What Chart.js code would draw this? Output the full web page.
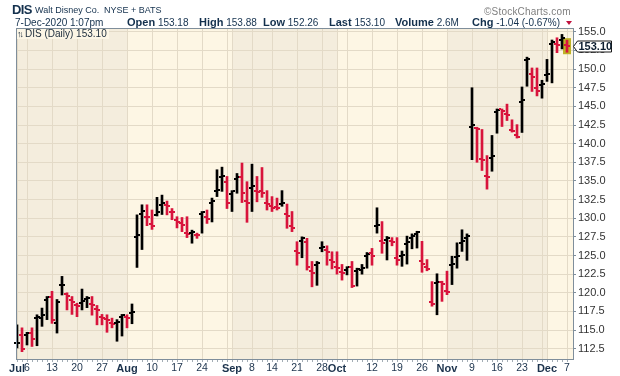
<!DOCTYPE html>
<html>
<head>
<meta charset="utf-8">
<title>DIS Daily</title>
<script src="https://cdn.jsdelivr.net/npm/chart.js"></script>
<style>
  body { margin: 0; background: #fff; }
  #wrap { position: relative; width: 620px; height: 376px; overflow: hidden;
    font-family: "Liberation Sans", Arial, sans-serif; color: #13304d; }
  #wrap canvas { position: absolute; left: 0; top: 0; }
  #wrap span { position: absolute; white-space: nowrap; line-height: 1; }
  #wrap span.q { top: 16.7px; font-size: 10px; line-height: 11px; }
  #wrap span.q b { font-size: 11px; }
  #legend { left: 17px; top: 29px; height: 10px; padding-right: 2px; font-size: 10px;
    line-height: 10px !important; background: #fcf6e6; color: #1a2a3a; }
  #legend i { font-style: normal; font-size: 9px; letter-spacing: -2px; margin-right: 3px; }
  #down { position: absolute; left: 566px; top: 21px; width: 0; height: 0;
    border-left: 3.5px solid transparent; border-right: 3.5px solid transparent;
    border-top: 4px solid #c0103c; }
</style>
</head>
<body>
<div id="wrap">
  <canvas id="chart" width="620" height="376"></canvas>
  <span style="left:12px; top:3px; font-size:13px; font-weight:bold; letter-spacing:-0.6px;">DIS</span>
  <span style="left:35px; top:6.4px; font-size:9px;">Walt Disney Co.</span>
  <span style="left:104px; top:6.4px; font-size:9px;">NYSE + BATS</span>
  <span style="left:484px; top:6.5px; font-size:10px; color:#808080; letter-spacing:0.2px;">©StockCharts.com</span>
  <span class="q" style="left:15px;">7-Dec-2020 1:07pm</span>
  <span class="q" style="left:127px;"><b>Open</b> 153.18</span>
  <span class="q" style="left:199px;"><b>High</b> 153.88</span>
  <span class="q" style="left:263px;"><b>Low</b> 152.26</span>
  <span class="q" style="left:329px;"><b>Last</b> 153.10</span>
  <span class="q" style="left:395px;"><b>Volume</b> 2.6M</span>
  <span class="q" style="left:472px;"><b>Chg</b> -1.04 (-0.67%)</span>
  <div id="down"></div>
  <span id="legend"><i>↑↓</i>DIS (Daily) 153.10</span>
</div>
<script>
// Trading days, Jul 1 - Dec 7 2020 (MM-DD)
const dates = [
  "07-01", "07-02", "07-06", "07-07", "07-08", "07-09", "07-10", "07-13", "07-14", "07-15",
  "07-16", "07-17", "07-20", "07-21", "07-22", "07-23", "07-24", "07-27", "07-28", "07-29",
  "07-30", "07-31", "08-03", "08-04", "08-05", "08-06", "08-07", "08-10", "08-11", "08-12",
  "08-13", "08-14", "08-17", "08-18", "08-19", "08-20", "08-21", "08-24", "08-25", "08-26",
  "08-27", "08-28", "08-31", "09-01", "09-02", "09-03", "09-04", "09-08", "09-09", "09-10",
  "09-11", "09-14", "09-15", "09-16", "09-17", "09-18", "09-21", "09-22", "09-23", "09-24",
  "09-25", "09-28", "09-29", "09-30", "10-01", "10-02", "10-05", "10-06", "10-07", "10-08",
  "10-09", "10-12", "10-13", "10-14", "10-15", "10-16", "10-19", "10-20", "10-21", "10-22",
  "10-23", "10-26", "10-27", "10-28", "10-29", "10-30", "11-02", "11-03", "11-04", "11-05",
  "11-06", "11-09", "11-10", "11-11", "11-12", "11-13", "11-16", "11-17", "11-18", "11-19",
  "11-20", "11-23", "11-24", "11-25", "11-27", "11-30", "12-01", "12-02", "12-03", "12-04",
  "12-07",
];

const opens = [
  113.2, 114.3, 114.4, 114.6, 116.6, 116.6, 119.0, 119.5, 116.0, 121.0,
  119.8, 119.0, 118.3, 118.6, 119.1, 118.5, 117.8, 116.7, 116.5, 115.9,
  116.0, 116.8, 116.8, 117.3, 127.5, 130.5, 130.2, 129.2, 130.4, 131.8,
  131.8, 130.9, 129.7, 129.3, 128.0, 128.0, 127.8, 130.6, 130.1, 132.0,
  133.6, 135.5, 134.8, 133.3, 135.3, 135.5, 132.3, 134.1, 133.7, 133.6,
  132.0, 131.6, 131.5, 131.9, 130.6, 128.9, 125.6, 127.0, 126.8, 122.9,
  123.7, 126.0, 125.7, 124.4, 123.5, 122.8, 123.1, 123.5, 122.9, 123.1,
  124.9, 125.3, 128.9, 127.0, 127.1, 127.0, 124.6, 124.9, 126.5, 127.3,
  127.9, 124.2, 123.5, 118.7, 121.3, 121.4, 120.3, 123.7, 124.8, 126.7,
  127.3, 142.3, 142.1, 138.0, 135.7, 138.1, 144.2, 144.6, 144.0, 141.8,
  141.1, 145.6, 151.2, 149.3, 147.4, 147.8, 149.2, 153.3, 153.4, 153.9,
  153.18,
];
const highs = [
  115.7, 115.3, 114.7, 115.3, 117.05, 117.95, 119.5, 120.2, 119.1, 122.2,
  120.0, 119.5, 118.6, 120.5, 119.5, 119.5, 118.3, 117.1, 117.05, 116.6,
  116.4, 117.1, 117.05, 118.5, 130.45, 131.8, 131.8, 131.1, 132.8, 133.1,
  132.3, 131.3, 130.2, 130.1, 130.2, 128.4, 128.0, 130.9, 131.1, 132.7,
  136.5, 136.85, 135.6, 133.7, 136.0, 137.4, 134.9, 137.25, 135.6, 136.8,
  133.7, 132.9, 132.7, 133.7, 131.9, 130.9, 126.85, 127.5, 127.3, 124.2,
  124.2, 126.85, 126.3, 125.5, 125.5, 123.8, 123.5, 124.2, 123.3, 123.8,
  125.4, 125.95, 131.4, 129.55, 127.55, 127.4, 127.4, 125.6, 127.6, 127.9,
  128.25, 126.9, 124.45, 121.5, 122.55, 121.55, 122.9, 124.9, 126.7, 128.45,
  127.9, 147.5, 142.2, 141.9, 138.4, 141.1, 144.65, 144.65, 145.3, 143.2,
  142.55, 147.6, 151.6, 150.15, 150.15, 148.5, 151.3, 153.9, 154.2, 154.65,
  153.88,
];
const lows = [
  112.6, 112.1, 113.0, 112.8, 112.9, 115.5, 116.4, 115.9, 114.6, 119.7,
  117.7, 117.1, 116.8, 117.7, 118.0, 117.0, 115.7, 115.7, 114.7, 115.3,
  113.5, 114.2, 115.3, 115.85, 123.4, 125.8, 129.0, 128.5, 130.3, 130.5,
  130.45, 129.8, 128.7, 128.2, 127.4, 126.65, 127.3, 128.0, 129.3, 129.5,
  132.9, 133.6, 131.3, 130.9, 133.35, 132.1, 129.45, 130.9, 132.2, 132.8,
  131.1, 130.9, 131.1, 131.6, 128.65, 128.2, 123.7, 124.7, 123.05, 120.8,
  121.0, 125.5, 123.7, 123.2, 122.5, 121.7, 122.4, 120.7, 120.9, 122.5,
  123.3, 123.7, 128.0, 125.3, 124.4, 126.3, 123.7, 123.55, 123.85, 125.9,
  126.0, 122.75, 122.95, 118.2, 117.05, 118.85, 119.75, 121.1, 123.3, 125.55,
  124.35, 137.85, 137.5, 136.4, 133.9, 136.3, 141.4, 142.3, 143.1, 141.55,
  140.75, 141.5, 147.7, 147.0, 146.4, 146.1, 148.35, 148.15, 152.2, 152.7,
  152.26,
];
const closes = [
  113.3, 112.4, 114.6, 113.8, 116.8, 117.0, 119.4, 116.4, 118.8, 121.1,
  119.6, 118.8, 118.2, 118.9, 119.3, 118.4, 117.7, 116.6, 116.4, 115.8,
  116.1, 117.0, 116.6, 117.4, 127.8, 131.0, 130.1, 129.0, 130.8, 132.0,
  131.6, 130.8, 129.5, 129.1, 127.9, 128.2, 127.7, 130.8, 129.9, 132.3,
  133.8, 135.7, 132.0, 133.6, 135.5, 133.4, 132.0, 134.3, 133.5, 133.35,
  131.9, 131.4, 131.35, 132.1, 130.35, 128.7, 125.4, 127.3, 123.4, 122.7,
  124.0, 126.2, 125.5, 124.1, 123.3, 122.6, 123.4, 120.9, 123.2, 123.3,
  125.15, 125.0, 129.1, 126.7, 127.4, 126.85, 124.4, 125.05, 126.8, 127.6,
  128.1, 123.9, 123.2, 118.45, 121.5, 121.2, 120.1, 123.9, 125.0, 126.9,
  127.6, 142.5, 142.0, 137.8, 135.5, 138.3, 144.5, 144.4, 143.8, 141.65,
  140.9, 145.9, 151.4, 149.0, 147.1, 148.0, 149.35, 153.6, 153.2, 154.14,
  153.10,
];
const prevClose = 111.51; // Jun 30 close, sets colour of first bar

// X axis: weekly / month ticks ("" = grid line only)
const xTickDates = [
  "07-01", "07-06", "07-13", "07-20", "07-27", "08-03", "08-10", "08-17", "08-24",
  "08-31", "09-01", "09-08", "09-14", "09-21", "09-28", "10-01", "10-05", "10-12",
  "10-19", "10-26", "11-02", "11-09", "11-16", "11-23", "11-30", "12-01", "12-07",
];
const xTickLabels = [
  "Jul", "6", "13", "20", "27", "Aug", "10", "17", "24",
  "", "Sep", "8", "14", "21", "28", "Oct", "", "12",
  "19", "26", "Nov", "9", "16", "23", "", "Dec", "7",
];
const yTicks = [112.5, 115, 117.5, 120, 122.5, 125, 127.5, 130, 132.5, 135, 137.5, 140, 142.5, 145, 147.5, 150, 152.5, 155];

const UP = "#000000";
const DOWN = "#d8143c";
const gridColor = "#e3dac7";
const frameColor = "#7f8e9b";

const barColors = closes.map((c, i) => (c >= (i === 0 ? prevClose : closes[i - 1]) ? UP : DOWN));

/** Alternating month shading */
const monthBands = {
  id: "monthBands",
  beforeDraw(chart) {
    const { ctx, chartArea: a, scales: { x } } = chart;
    ctx.save();
    ctx.fillStyle = "#fdf6e4";
    ctx.fillRect(a.left, a.top, a.right - a.left, a.bottom - a.top);
    let start = 0;
    let month = 0;
    for (let i = 1; i <= dates.length; i++) {
      if (i === dates.length || dates[i].slice(0, 2) !== dates[i - 1].slice(0, 2)) {
        if (month % 2 === 0) {
          const x0 = start === 0 ? a.left : Math.round(x.getPixelForValue(start));
          const x1 = i === dates.length ? a.right : Math.round(x.getPixelForValue(i));
          ctx.fillStyle = "#f4eddd";
          ctx.fillRect(x0, a.top, x1 - x0, a.bottom - a.top);
        }
        start = i;
        month++;
      }
    }
    ctx.restore();
  },
};

/** Open / close ticks, last bar highlight, frame and price tag */
const ohlcTicks = {
  id: "ohlcTicks",
  beforeDatasetsDraw(chart) {
    const { ctx, scales: { x, y } } = chart;
    const last = closes.length - 1;
    const px = Math.round(x.getPixelForValue(last));
    const top = y.getPixelForValue(highs[last]) - 2;
    const bottom = y.getPixelForValue(lows[last]) + 2;
    ctx.save();
    ctx.fillStyle = "#bdb226";
    ctx.fillRect(px - 4, top, 8, bottom - top);
    ctx.restore();
  },
  afterDatasetsDraw(chart) {
    const { ctx, scales: { x, y } } = chart;
    ctx.save();
    closes.forEach((c, i) => {
      const px = Math.round(x.getPixelForValue(i));
      ctx.fillStyle = barColors[i];
      ctx.fillRect(px - 3, Math.round(y.getPixelForValue(opens[i])) - 1, 2, 2);
      ctx.fillRect(px + 1, Math.round(y.getPixelForValue(c)) - 1, 2, 2);
    });
    ctx.restore();
  },
  afterDraw(chart) {
    const { ctx, chartArea: a, scales: { x, y } } = chart;
    ctx.save();
    // frame
    ctx.strokeStyle = frameColor;
    ctx.lineWidth = 1;
    ctx.strokeRect(a.left + 0.5, a.top + 0.5, a.right - a.left, a.bottom - a.top);
    // small ticks under the x axis, one per bar
    ctx.fillStyle = "#a3adb5";
    dates.forEach((d, i) => {
      ctx.fillRect(Math.round(x.getPixelForValue(i)), a.bottom + 1, 1, 2);
    });
    // last price tag
    const last = closes[closes.length - 1];
    const yc = Math.round(y.getPixelForValue(last)) + 0.5;
    const l = a.right + 0.5;
    ctx.beginPath();
    ctx.moveTo(l, yc);
    ctx.lineTo(l + 4, yc - 5.5);
    ctx.lineTo(l + 38, yc - 5.5);
    ctx.lineTo(l + 38, yc + 5.5);
    ctx.lineTo(l + 4, yc + 5.5);
    ctx.closePath();
    ctx.fillStyle = "#ffffff";
    ctx.fill();
    ctx.strokeStyle = "#1a1a1a";
    ctx.stroke();
    ctx.fillStyle = "#0d1e30";
    ctx.font = "bold 11px 'Liberation Sans', Arial, sans-serif";
    ctx.textBaseline = "middle";
    ctx.fillText(last.toFixed(2), l + 5, yc + 0.5);
    ctx.restore();
  },
};

const ctx = document.getElementById("chart").getContext("2d");

new Chart(ctx, {
  type: "bar",
  data: {
    datasets: [
      {
        data: dates.map((d, i) => ({ x: i, y: [lows[i], highs[i]] })),
        backgroundColor: barColors,
        borderWidth: 0,
        barThickness: 2,
      },
    ],
  },
  options: {
    responsive: false,
    animation: false,
    devicePixelRatio: 1,
    layout: { padding: { left: 16, top: 28, right: 0, bottom: 0 } },
    plugins: { legend: { display: false }, tooltip: { enabled: false } },
    scales: {
      x: {
        type: "linear",
        bounds: "data",
        offset: false,
        min: -0.2,
        max: 111.2,
        afterFit: (axis) => { axis.height = 17; },
        afterBuildTicks: (axis) => {
          axis.ticks = xTickDates.map((d) => ({ value: dates.indexOf(d) }));
        },
        grid: { color: gridColor, drawTicks: false, offset: false },
        border: { display: false },
        ticks: {
          autoSkip: false,
          maxRotation: 0,
          padding: 3,
          color: "#1b324c",
          callback: (value, index) => xTickLabels[index],
          font: (c) =>
            /[A-Za-z]/.test(xTickLabels[c.index] || "")
              ? { family: "'Liberation Sans', Arial, sans-serif", size: 11, weight: "bold" }
              : { family: "'Liberation Sans', Arial, sans-serif", size: 10.5 },
        },
      },
      y: {
        position: "right",
        bounds: "data",
        min: 111.12,
        max: 155.51,
        afterFit: (axis) => { axis.width = 47; },
        afterBuildTicks: (axis) => {
          axis.ticks = yTicks.map((v) => ({ value: v }));
        },
        grid: { color: gridColor, tickLength: 3, tickColor: frameColor },
        border: { display: false },
        ticks: {
          padding: 2,
          color: "#333333",
          font: { family: "'Liberation Sans', Arial, sans-serif", size: 11 },
          callback: (value) => Number(value).toFixed(1),
        },
      },
    },
  },
  plugins: [monthBands, ohlcTicks],
});
</script>
</body>
</html>
